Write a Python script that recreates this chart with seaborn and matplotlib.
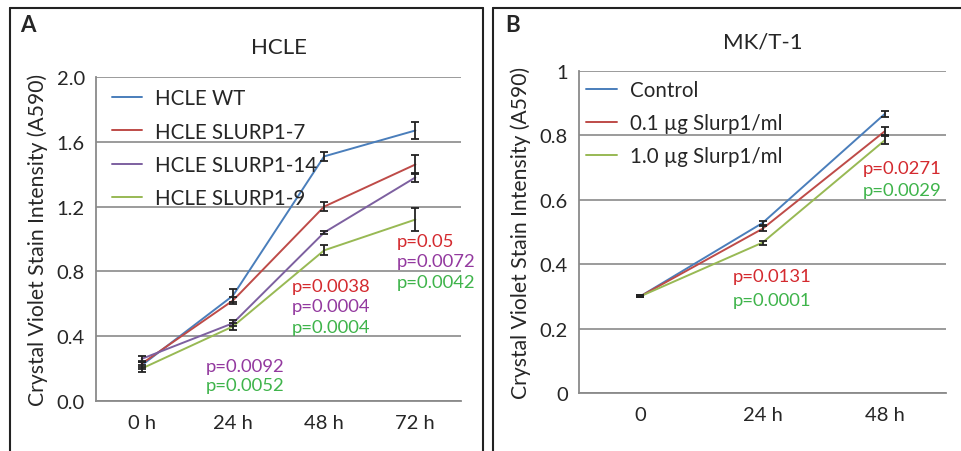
import numpy as np
import pandas as pd
import seaborn as sns
import matplotlib.pyplot as plt
from matplotlib.lines import Line2D
from matplotlib.ticker import MultipleLocator, FixedLocator, FuncFormatter

sns.set_style("white")
plt.rcParams['font.family'] = ['Lato', 'DejaVu Sans']

# panel A - HCLE
hcle_times = ['0 h', '24 h', '48 h', '72 h']
hcle_groups = ['HCLE WT', 'HCLE SLURP1-7', 'HCLE SLURP1-14', 'HCLE SLURP1-9']
hcle_wt = [0.22, 0.65, 1.51, 1.67]
hcle_s7 = [0.23, 0.62, 1.20, 1.46]
hcle_s14 = [0.26, 0.48, 1.04, 1.38]
hcle_s9 = [0.20, 0.46, 0.93, 1.12]
hcle_wt_err = [0.02, 0.04, 0.03, 0.05]
hcle_s7_err = [0.02, 0.02, 0.03, 0.06]
hcle_s14_err = [0.02, 0.02, 0.01, 0.03]
hcle_s9_err = [0.02, 0.02, 0.03, 0.07]

# panel B - MK/T-1
mkt_times = ['0', '24 h', '48 h']
mkt_groups = ['Control', '0.1 \u00b5g Slurp1/ml', '1.0 \u00b5g Slurp1/ml']
mkt_ctrl = [0.30, 0.528, 0.867]
mkt_01 = [0.30, 0.51, 0.813]
mkt_10 = [0.30, 0.467, 0.785]
mkt_ctrl_err = [0.003, 0.006, 0.01]
mkt_01_err = [0.003, 0.008, 0.012]
mkt_10_err = [0.003, 0.006, 0.012]

line_cols = ['#4a7ebb', '#be4b48', '#7d60a0', '#98b954']
txt_red, txt_purple, txt_green = '#d42a2f', '#93399f', '#3fb44b'

fig = plt.figure(figsize=(9.61, 4.52), dpi=100)
axA = fig.add_axes([0.0999, 0.1106, 0.3798, 0.7168])
axB = fig.add_axes([0.6025, 0.1283, 0.3819, 0.7124])


def draw_panel(ax, times, groups, values, errs, cols):
    rows = []
    for g, vals in zip(groups, values):
        for i, v in enumerate(vals):
            rows.append({'x': i, 'y': v, 'group': g})
    df = pd.DataFrame(rows)
    sns.lineplot(data=df, x='x', y='y', hue='group', hue_order=groups,
                 palette=cols[:len(groups)], linewidth=1.4, ax=ax, zorder=3)
    for vals, e in zip(values, errs):
        ax.errorbar(range(len(vals)), vals, yerr=e, fmt='none', ecolor='#222222',
                    elinewidth=1.3, capsize=3.0, capthick=1.3, zorder=4)
    n = len(times)
    ax.set_xlim(-0.5, n - 0.5)
    ax.set_xticks(range(n))
    ax.set_xticklabels(times, fontsize=14.5)
    ax.xaxis.set_minor_locator(FixedLocator(np.arange(-0.5, n, 1.0)))
    ax.tick_params(axis='x', which='major', length=0, pad=9)
    ax.tick_params(axis='x', which='minor', length=6, width=1.2, color='#8a8a8a', direction='out')
    ax.tick_params(axis='y', which='both', length=5, width=1.0, color='#8a8a8a', direction='out',
                   labelsize=14.5, pad=3)
    ax.yaxis.grid(True, which='major', color='#8a8a8a', linewidth=1.2)
    ax.set_axisbelow(True)
    for s in ['top', 'right']:
        ax.spines[s].set_visible(False)
    for s in ['left', 'bottom']:
        ax.spines[s].set_color('#8a8a8a')
        ax.spines[s].set_linewidth(1.3)
    ax.set_xlabel('')
    ax.set_ylabel('Crystal Violet Stain Intensity (A590)', fontsize=15.2, labelpad=6)
    ax.legend(loc='upper left', frameon=False, fontsize=14.8, handlelength=1.5,
              handletextpad=0.6, labelspacing=0.64, borderaxespad=0.0,
              bbox_to_anchor=(0.02, 0.99))


draw_panel(axA, hcle_times, hcle_groups, [hcle_wt, hcle_s7, hcle_s14, hcle_s9],
           [hcle_wt_err, hcle_s7_err, hcle_s14_err, hcle_s9_err], line_cols)
axA.set_ylim(0, 2.0)
axA.yaxis.set_major_locator(MultipleLocator(0.4))
axA.yaxis.set_minor_locator(MultipleLocator(0.2))
axA.yaxis.set_major_formatter(FuncFormatter(lambda v, p: f'{v:.1f}'))
axA.set_title('HCLE', fontsize=16, pad=17)

draw_panel(axB, mkt_times, mkt_groups, [mkt_ctrl, mkt_01, mkt_10],
           [mkt_ctrl_err, mkt_01_err, mkt_10_err], [line_cols[0], line_cols[1], line_cols[3]])
axB.set_ylim(0, 1.0)
axB.yaxis.set_major_locator(MultipleLocator(0.2))
axB.yaxis.set_minor_locator(MultipleLocator(0.1))
axB.yaxis.set_major_formatter(FuncFormatter(lambda v, p: f'{v:g}'))
axB.set_title('MK/T-1', fontsize=16, pad=17)
axB.legend_.set_bbox_to_anchor((-0.002, 0.998))

# p-value annotations
kw = dict(fontsize=13.3, ha='left', va='center')
axA.text(0.70, 0.215, 'p=0.0092', color=txt_purple, **kw)
axA.text(0.70, 0.10, 'p=0.0052', color=txt_green, **kw)
axA.text(1.65, 0.71, 'p=0.0038', color=txt_red, **kw)
axA.text(1.65, 0.585, 'p=0.0004', color=txt_purple, **kw)
axA.text(1.65, 0.455, 'p=0.0004', color=txt_green, **kw)
axA.text(2.80, 0.985, 'p=0.05', color=txt_red, **kw)
axA.text(2.80, 0.865, 'p=0.0072', color=txt_purple, **kw)
axA.text(2.80, 0.735, 'p=0.0042', color=txt_green, **kw)
axB.text(1.82, 0.70, 'p=0.0271', color=txt_red, **kw)
axB.text(1.82, 0.632, 'p=0.0029', color=txt_green, **kw)
axB.text(0.76, 0.364, 'p=0.0131', color=txt_red, **kw)
axB.text(0.76, 0.29, 'p=0.0001', color=txt_green, **kw)

# panel letters
fig.text(20 / 961, 1 - 26 / 452, 'A', fontsize=16, fontweight='bold', ha='left', va='center')
fig.text(505 / 961, 1 - 26 / 452, 'B', fontsize=16, fontweight='bold', ha='left', va='center')

# panel borders
bc = '#222222'
H, W = 452, 961
for (x0, x1) in [(10, 483), (493, 961)]:
    fig.add_artist(Line2D([x0 / W, x1 / W], [1 - 8.5 / H, 1 - 8.5 / H], color=bc, lw=1.5))
    fig.add_artist(Line2D([x0 / W, x0 / W], [0, 1 - 8.5 / H], color=bc, lw=1.5))
fig.add_artist(Line2D([483 / W, 483 / W], [0, 1 - 8.5 / H], color=bc, lw=1.5))

fig.savefig('out.png', dpi=100)
